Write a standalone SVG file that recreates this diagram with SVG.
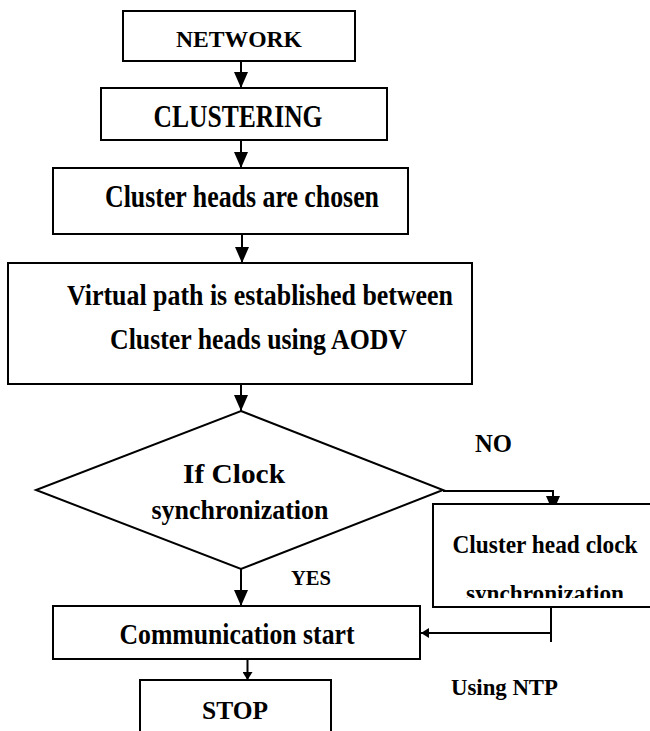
<svg xmlns="http://www.w3.org/2000/svg" width="650" height="731" viewBox="0 0 650 731">
<style>
  .box { fill: #fff; stroke: #000; stroke-width: 2; }
  .ln { fill: none; stroke: #000; stroke-width: 2; }
  .t { font-family: "Liberation Serif", "Times New Roman", serif; font-weight: bold; fill: #000; text-anchor: middle; }
</style>
<defs>
  <marker id="ah" markerUnits="userSpaceOnUse" markerWidth="16" markerHeight="14" refX="16" refY="7" orient="auto">
    <path d="M0,0 L16,7 L0,14 Z" fill="#000"/>
  </marker>
  <marker id="ahs" markerUnits="userSpaceOnUse" markerWidth="8" markerHeight="10" refX="8" refY="5" orient="auto">
    <path d="M0,0 L8,5 L0,10 Z" fill="#000"/>
  </marker>
  <clipPath id="clipSync"><rect x="433" y="560" width="217" height="38"/></clipPath>
</defs>
<rect width="650" height="731" fill="#fff"/>

<g id="connectors">
  <line class="ln" x1="241" y1="61" x2="241" y2="88" marker-end="url(#ah)"/>
  <line class="ln" x1="241" y1="140" x2="241" y2="168" marker-end="url(#ah)"/>
  <line class="ln" x1="242" y1="234" x2="242" y2="263" marker-end="url(#ah)"/>
  <line class="ln" x1="241" y1="384" x2="241" y2="411" marker-end="url(#ah)"/>
  <line class="ln" x1="241" y1="569" x2="241" y2="606" marker-end="url(#ah)"/>
  <path class="ln" d="M443,491 H553 V512" marker-end="url(#ah)"/>
  <line class="ln" x1="551" y1="607" x2="551" y2="642"/>
  <line class="ln" x1="551" y1="633" x2="421" y2="633" marker-end="url(#ahs)"/>
  <line class="ln" x1="247.5" y1="659" x2="247.5" y2="680" marker-end="url(#ahs)"/>
</g>

<g id="network">
  <rect class="box" x="123" y="11" width="232" height="50"/>
  <text class="t" x="239" y="47" font-size="23" textLength="126" lengthAdjust="spacingAndGlyphs">NETWORK</text>
</g>
<g id="clustering">
  <rect class="box" x="101" y="88" width="286" height="52"/>
  <text class="t" x="238" y="127" font-size="31" textLength="169" lengthAdjust="spacingAndGlyphs">CLUSTERING</text>
</g>
<g id="heads">
  <rect class="box" x="53" y="168" width="355" height="66"/>
  <text class="t" x="242" y="207" font-size="31" textLength="274" lengthAdjust="spacingAndGlyphs">Cluster heads are chosen</text>
</g>
<g id="virtual">
  <rect class="box" x="8" y="263" width="464" height="121"/>
  <text class="t" x="260" y="305" font-size="29" textLength="386" lengthAdjust="spacingAndGlyphs">Virtual path is established between</text>
  <text class="t" x="258.5" y="349" font-size="29" textLength="297" lengthAdjust="spacingAndGlyphs">Cluster heads using AODV</text>
</g>
<g id="decision">
  <polygon class="box" points="241,411 443,490 241,569 36,490"/>
  <text class="t" x="234" y="483" font-size="27" textLength="102" lengthAdjust="spacingAndGlyphs">If Clock</text>
  <text class="t" x="240" y="519" font-size="27" textLength="177" lengthAdjust="spacingAndGlyphs">synchronization</text>
</g>
<g id="sync">
  <rect class="box" x="433" y="504" width="225" height="103"/>
  <text class="t" x="545" y="553" font-size="25" textLength="185" lengthAdjust="spacingAndGlyphs">Cluster head clock</text>
  <text class="t" x="545" y="601" font-size="24" textLength="158" lengthAdjust="spacingAndGlyphs" clip-path="url(#clipSync)">synchronization</text>
</g>
<g id="communication">
  <rect class="box" x="53" y="606" width="367" height="53"/>
  <text class="t" x="237" y="644" font-size="30" textLength="235" lengthAdjust="spacingAndGlyphs">Communication start</text>
</g>
<g id="stop">
  <rect class="box" x="140" y="680" width="191" height="60"/>
  <text class="t" x="235" y="719" font-size="26" textLength="66" lengthAdjust="spacingAndGlyphs">STOP</text>
</g>
<g id="labels">
  <text class="t" x="493.5" y="452" font-size="26" textLength="37" lengthAdjust="spacingAndGlyphs">NO</text>
  <text class="t" x="311" y="585" font-size="20" textLength="40" lengthAdjust="spacingAndGlyphs">YES</text>
  <text class="t" x="504.5" y="695" font-size="23" textLength="107" lengthAdjust="spacingAndGlyphs">Using NTP</text>
</g>
</svg>
